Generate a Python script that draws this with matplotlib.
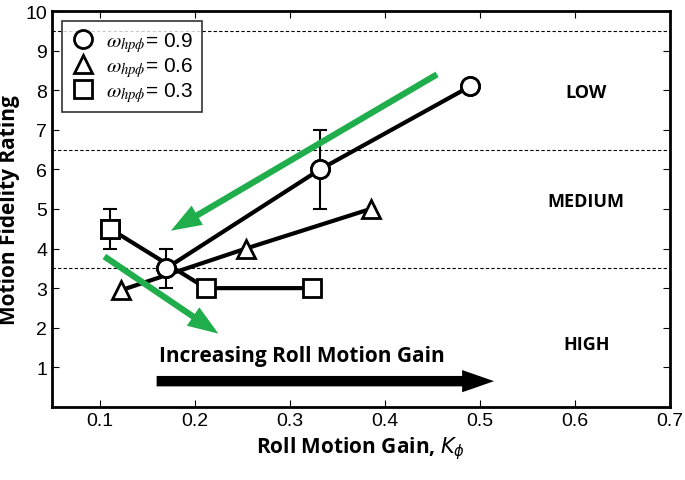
import numpy as np
import matplotlib.pyplot as plt
from matplotlib.font_manager import FontProperties

# circle series (w = 0.9)
k_09 = [0.17, 0.332, 0.49]
r_09 = [3.5, 6.0, 8.1]
e_09 = [0.5, 1.0, 0.0]
# triangle series (w = 0.6)
k_06 = [0.123, 0.254, 0.385]
r_06 = [2.95, 4.0, 5.0]
# square series (w = 0.3)
k_03 = [0.111, 0.212, 0.323]
r_03 = [4.5, 3.0, 3.0]
e_03 = [0.5, 0.0, 0.0]

bounds = [9.5, 6.5, 3.5]
zones = ["LOW", "MEDIUM", "HIGH"]
zone_y = [7.95, 5.2, 1.6]

plt.rcParams['font.family'] = ['Liberation Sans', 'DejaVu Sans']
fig = plt.figure(figsize=(6.85, 4.81), dpi=100)
ax = fig.add_axes([0.076, 0.152, 0.902, 0.823])

for b in bounds:
    ax.axhline(b, color="black", ls="--", lw=0.8, dashes=(3, 2))

mk = dict(color="black", lw=3, ms=13, mfc="white", mec="black", mew=2)
ax.plot(k_09, r_09, marker="o", **mk)
ax.plot(k_06, r_06, marker="^", **mk)
ax.plot(k_03, r_03, marker="s", **mk)
ax.errorbar(k_09[:2], r_09[:2], yerr=e_09[:2], fmt="none", ecolor="black",
            elinewidth=1.5, capsize=5, capthick=1.5, zorder=1)
ax.errorbar(k_03[:1], r_03[:1], yerr=e_03[:1], fmt="none", ecolor="black",
            elinewidth=1.5, capsize=5, capthick=1.5, zorder=1)
# redraw markers on top of error bars
ax.plot(k_09, r_09, ls="none", marker="o", ms=13, mfc="white", mec="black", mew=2)
ax.plot(k_03[:1], r_03[:1], ls="none", marker="s", ms=13, mfc="white", mec="black", mew=2)

# green trend arrows
green = "#1fae4b"
gstyle = "simple,tail_width=0.45,head_width=1.6,head_length=2.2"
ax.annotate("", xy=(0.175, 4.45), xytext=(0.455, 8.4),
            arrowprops=dict(arrowstyle=gstyle, mutation_scale=10, color=green,
                            lw=0, shrinkA=0, shrinkB=0))
ax.annotate("", xy=(0.225, 1.85), xytext=(0.105, 3.8),
            arrowprops=dict(arrowstyle=gstyle, mutation_scale=10, color=green,
                            lw=0, shrinkA=0, shrinkB=0))
# black gain arrow
ax.annotate("", xy=(0.515, 0.65), xytext=(0.16, 0.65),
            arrowprops=dict(arrowstyle="simple,tail_width=0.75,head_width=1.6,head_length=2.3",
                            mutation_scale=10, color="black", lw=0,
                            shrinkA=0, shrinkB=0))
ax.text(0.163, 1.3, "Increasing Roll Motion Gain", fontsize=15,
        fontweight="bold", family="Open Sans", va="center")

for z, y in zip(zones, zone_y):
    ax.text(0.612, y, z, fontsize=13, fontweight="bold", family="Open Sans",
            ha="center", va="center")

# legend with markers only
h1, = ax.plot([], [], ls="none", marker="o", ms=13, mfc="white", mec="black", mew=2)
h2, = ax.plot([], [], ls="none", marker="^", ms=13, mfc="white", mec="black", mew=2)
h3, = ax.plot([], [], ls="none", marker="s", ms=13, mfc="white", mec="black", mew=2)
leg = ax.legend([h1, h2, h3],
                [r"$\omega_{hp\phi}$= 0.9", r"$\omega_{hp\phi}$= 0.6", r"$\omega_{hp\phi}$= 0.3"],
                loc="upper left",
                prop=FontProperties(family="Liberation Sans", size=15,
                                    math_fontfamily="stix"),
                frameon=True, fancybox=False,
                edgecolor="black", handletextpad=0.5, labelspacing=0.05,
                borderaxespad=0.5, handlelength=1.2, borderpad=0.4)
leg.get_frame().set_linewidth(1.2)

ax.set_xlim(0.05, 0.7)
ax.set_ylim(0, 10)
ax.set_xticks(np.arange(0.1, 0.71, 0.1))
ax.set_yticks(np.arange(1, 11))
ax.set_xticklabels(["0.1", "0.2", "0.3", "0.4", "0.5", "0.6", "0.7"])
ax.tick_params(direction="in", top=True, right=True, labelsize=14, length=5)
for s in ax.spines.values():
    s.set_linewidth(2)

ax.set_xlabel(r"Roll Motion Gain, $\boldsymbol{K_\phi}$", fontsize=15,
              fontweight="bold", family="Open Sans")
ax.set_ylabel("Motion Fidelity Rating", fontsize=15, fontweight="bold",
              family="Open Sans")

fig.savefig("out.png")
